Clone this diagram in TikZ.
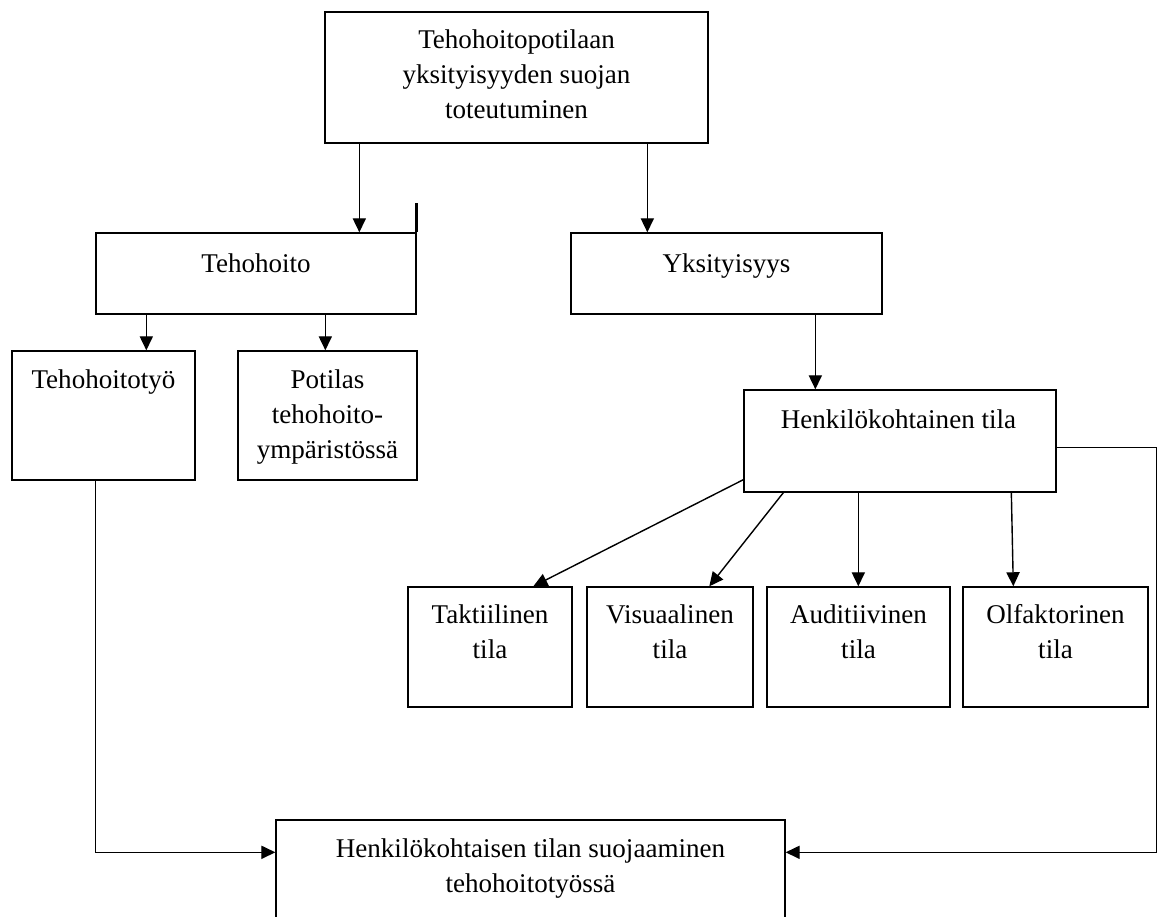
\documentclass[tikz,border=0pt]{standalone}
\usepackage{fontspec}
\setmainfont{Liberation Serif}
\usetikzlibrary{arrows.meta}
\begin{document}
\begin{tikzpicture}[x=0.02cm,y=-0.02cm,
  box/.style={draw, line width=0.8pt, inner sep=0pt, minimum width=#1},
  txt/.style={inner sep=0pt, anchor=base, align=center, font=\fontsize{15.4pt}{19.85pt}\selectfont},
  arr/.style={line width=0.8pt, -{Triangle[length=8pt,width=7.5pt]}}]
\useasboundingbox (0,0) rectangle (1162,916);
\clip (0,0) rectangle (1162,916);
% boxes
\node[box=7.66cm, minimum height=2.62cm] (top) at (516.5,77.5) {};
\node[box=6.4cm, minimum height=1.62cm] (teho) at (256,273.5) {};
\node[box=6.22cm, minimum height=1.62cm] (yks) at (726.5,273.5) {};
\node[box=3.66cm, minimum height=2.58cm] (tyo) at (103.5,415.5) {};
\node[box=3.58cm, minimum height=2.58cm] (pot) at (327.5,415.5) {};
\node[box=6.24cm, minimum height=2.04cm] (henk) at (900,441) {};
\node[box=3.28cm, minimum height=2.4cm] (tak) at (490,647) {};
\node[box=3.32cm, minimum height=2.4cm] (vis) at (670,647) {};
\node[box=3.66cm, minimum height=2.4cm] (aud) at (858.5,647) {};
\node[box=3.7cm, minimum height=2.4cm] (olf) at (1055.5,647) {};
\node[box=10.18cm, minimum height=2.8cm] (bot) at (530.5,890) {};
% texts (anchor base = baseline of the last line)
\node[txt] (ttop) at (516.5,118) {Tehohoitopotilaan\\yksityisyyden suojan\\toteutuminen};
\node[txt] (tteho) at (256,272) {Tehohoito};
\node[txt] (tyks) at (726.5,272) {Yksityisyys};
\node[txt] (ttyo) at (103.5,388) {Tehohoitotyö};
\node[txt] (tpot) at (327.5,458) {Potilas\\tehohoito-\\ympäristössä};
\node[txt] (thenk) at (898.5,428) {Henkilökohtainen tila};
\node[txt] (ttak) at (490,658) {Taktiilinen\\tila};
\node[txt] (tvis) at (670,658) {Visuaalinen\\tila};
\node[txt] (taud) at (858.5,658) {Auditiivinen\\tila};
\node[txt] (tolf) at (1055.5,658) {Olfaktorinen\\tila};
\node[txt] (tbot) at (530.5,892) {Henkilökohtaisen tilan suojaaminen\\tehohoitotyössä};
% connectors
\path (top.south west) ++(35,0) coordinate (c1);
\draw[arr] (c1) -- (c1 |- teho.north);
\path (top.south west) ++(323,0) coordinate (c2);
\draw[arr] (c2) -- (c2 |- yks.north);
\path (teho.south west) ++(51,0) coordinate (c3);
\draw[arr] (c3) -- (c3 |- tyo.north);
\path (teho.south west) ++(230,0) coordinate (c4);
\draw[arr] (c4) -- (c4 |- pot.north);
\path (yks.south west) ++(245,0) coordinate (c5);
\draw[arr] (c5) -- (c5 |- henk.north);
\draw[line width=1.7pt] (teho.north east) -- ++(0,-29);
% henk to four boxes
\path (henk.south west) ++(0,-13) coordinate (h1);
\path (tak.north west) ++(126,0) coordinate (k1);
\draw[arr] (h1) -- (k1);
\path (henk.south west) ++(40,0) coordinate (h2);
\path (vis.north west) ++(123,0) coordinate (k2);
\draw[arr] (h2) -- (k2);
\path (henk.south west) ++(115,0) coordinate (h3);
\draw[arr] (h3) -- (h3 |- aud.north);
\path (henk.south west) ++(268,0) coordinate (h4);
\path (olf.north west) ++(51,0) coordinate (k4);
\draw[arr] (h4) -- (k4);
% routes to bottom box
\path (tyo.south west) ++(84,0) coordinate (l1);
\path (bot.north west) ++(0,33) coordinate (bl);
\draw[arr] (l1) |- (bl);
\path (henk.north east) ++(0,58) coordinate (r1);
\path (r1) ++(100,0) coordinate (rc);
\path (bot.north east) ++(0,33) coordinate (br);
\draw[arr] (r1) -- (rc) |- (br);
\end{tikzpicture}
\end{document}
